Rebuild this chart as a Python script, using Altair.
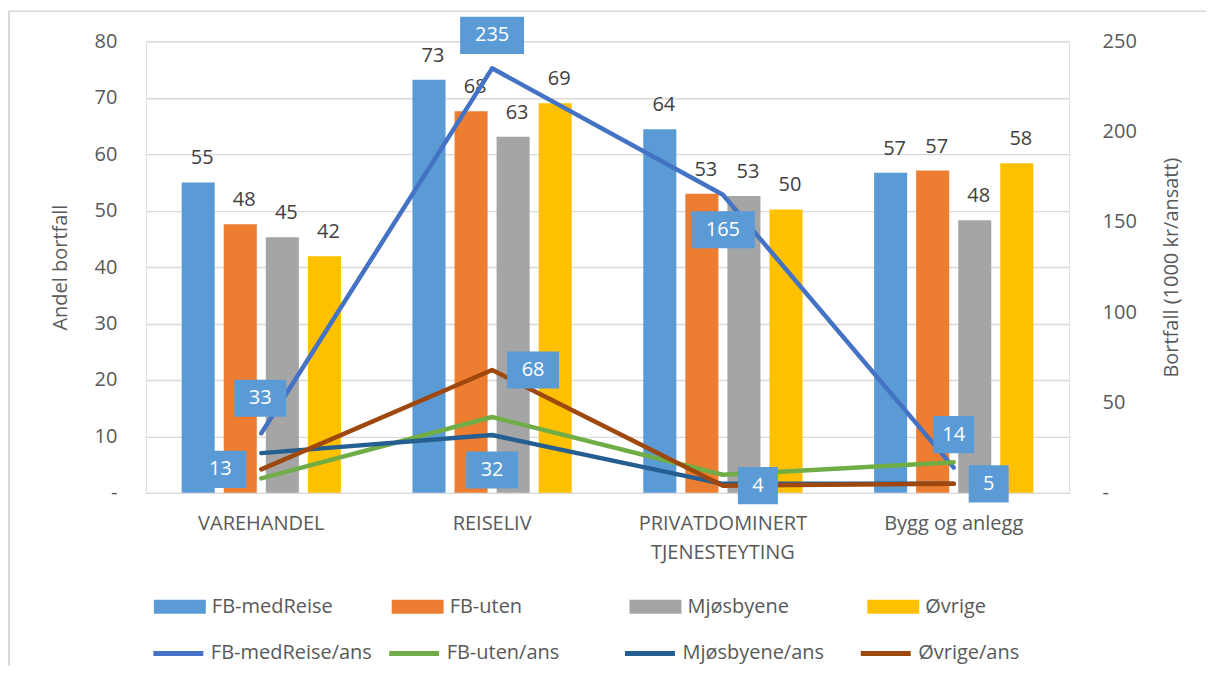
import altair as alt
import pandas as pd

FONT = "Open Sans"

categories = ["VAREHANDEL", "REISELIV", "PRIVATDOMINERT TJENESTEYTING", "Bygg og anlegg"]

bar_series = ["FB-medReise", "FB-uten", "Mjøsbyene", "Øvrige"]
bar_fb_medreise = [55.0, 73.2, 64.4, 56.7]
bar_fb_uten = [47.6, 67.6, 53.0, 57.1]
bar_mjosbyene = [45.3, 63.1, 52.6, 48.3]
bar_ovrige = [41.9, 69.0, 50.2, 58.4]

line_series = ["FB-medReise/ans", "FB-uten/ans", "Mjøsbyene/ans", "Øvrige/ans"]
line_fb_medreise = [33, 235, 165, 14]
line_fb_uten = [8, 42, 10, 17]
line_mjosbyene = [22, 32, 5, 5]
line_ovrige = [13, 68, 4, 5]

bar_colors = ["#5B9BD5", "#ED7D31", "#A5A5A5", "#FFC000"]
line_colors = ["#4472C4", "#70AD47", "#255E91", "#9E480E"]

# which line points carry a data label
labelled_series = ["FB-medReise/ans", "FB-medReise/ans", "FB-medReise/ans", "FB-medReise/ans",
                   "Øvrige/ans", "Øvrige/ans", "Øvrige/ans", "Øvrige/ans", "Mjøsbyene/ans"]
labelled_categories = ["VAREHANDEL", "REISELIV", "PRIVATDOMINERT TJENESTEYTING", "Bygg og anlegg",
                       "VAREHANDEL", "REISELIV", "PRIVATDOMINERT TJENESTEYTING", "Bygg og anlegg",
                       "REISELIV"]
# label box styling (pixel offsets from point, box width)
label_dx = [-1, 0, 0, 0, -41, 41, 35, 35, 0]
label_dy = [-35, -33, 35, -33, 0, 0, 0, 0, 35]
label_w = [52, 64, 64, 41, 52, 52, 40, 40, 52]

bar_vals = [bar_fb_medreise, bar_fb_uten, bar_mjosbyene, bar_ovrige]
line_vals = [line_fb_medreise, line_fb_uten, line_mjosbyene, line_ovrige]

bar_df = pd.DataFrame([
    {"category": c, "series": s, "value": v}
    for s, vals in zip(bar_series, bar_vals)
    for c, v in zip(categories, vals)
])
line_df = pd.DataFrame([
    {"category": c, "series": s, "value": v}
    for s, vals in zip(line_series, line_vals)
    for c, v in zip(categories, vals)
])

x_enc = alt.X(
    "category:N", sort=categories, title=None,
    scale=alt.Scale(paddingInner=0.31, paddingOuter=0.155),
    axis=alt.Axis(
        labelAngle=0, labelFontSize=20, labelFont=FONT, labelColor="#595959",
        labelPadding=21, labelLineHeight=29, ticks=False, domain=False, grid=False,
        labelExpr="length(datum.label) > 20 ? split(datum.label, ' ') : datum.label",
    ),
)

bar_legend = alt.Legend(
    title=None, orient="none", legendX=8, legendY=540, direction="horizontal",
    columns=4, gridAlign="all", columnPadding=58,
    symbolType="M-1,-0.27L1,-0.27L1,0.27L-1,0.27Z", symbolSize=2704,
    symbolStrokeWidth=0, symbolOpacity=1, labelOffset=6, labelLimit=300,
    labelFontSize=20, labelFont=FONT, labelColor="#595959", padding=0,
)

bars_base = alt.Chart(bar_df).encode(
    x=x_enc,
    xOffset=alt.XOffset("series:N", sort=bar_series,
                        scale=alt.Scale(paddingInner=0.214, paddingOuter=0)),
    y=alt.Y("value:Q", scale=alt.Scale(domain=[0, 80], nice=False), title="Andel bortfall",
            axis=alt.Axis(orient="left", values=list(range(0, 81, 10)), ticks=False,
                          domain=False, grid=True, gridColor="#D9D9D9", gridWidth=1.4,
                          labelFontSize=20, labelFont=FONT, labelColor="#595959",
                          labelPadding=29, titleFontSize=20, titleFont=FONT,
                          titleColor="#595959", titleFontWeight="normal", titlePadding=24,
                          labelExpr="datum.value == 0 ? '-' : datum.label")),
)
bars = bars_base.mark_bar().encode(
    color=alt.Color("series:N", sort=bar_series,
                    scale=alt.Scale(domain=bar_series, range=bar_colors),
                    legend=bar_legend)
)
bar_text = bars_base.mark_text(
    dx=4, dy=-18, baseline="alphabetic", fontSize=20, font=FONT, color="#404040"
).encode(text=alt.Text("value:Q", format=".0f"))

line_legend = alt.Legend(
    title=None, orient="none", legendX=5, legendY=585, direction="horizontal",
    columns=4, gridAlign="all", columnPadding=6,
    symbolType="stroke", symbolSize=2500, symbolStrokeWidth=5, labelOffset=5,
    labelLimit=300,
    labelFontSize=20, labelFont=FONT, labelColor="#595959", padding=0,
)

right_scale = alt.Scale(domain=[0, 250], nice=False)
y_right = alt.Y("value:Q", scale=right_scale, title="Bortfall (1000 kr/ansatt)",
                axis=alt.Axis(orient="right", values=list(range(0, 251, 50)), ticks=False,
                              domain=False, grid=False,
                              labelFontSize=20, labelFont=FONT, labelColor="#595959",
                              labelPadding=33, titleFontSize=20, titleFont=FONT,
                              titleColor="#595959", titleFontWeight="normal",
                              titleAngle=270, titlePadding=45,
                              labelExpr="datum.value == 0 ? '-' : datum.label"))

lines = alt.Chart(line_df).mark_line(
    strokeWidth=4.5, strokeCap="round", strokeJoin="round"
).encode(
    x=alt.X("category:N", sort=categories),
    y=y_right,
    color=alt.Color("series:N", sort=line_series,
                    scale=alt.Scale(domain=line_series, range=line_colors),
                    legend=line_legend),
)

label_layers = []
for s, c, dx, dy, w in zip(labelled_series, labelled_categories, label_dx, label_dy, label_w):
    hw = w / 64.0
    path = f"M{-hw},-0.58L{hw},-0.58L{hw},0.58L{-hw},0.58Z"
    base = alt.Chart(line_df).transform_filter(
        (alt.datum.series == s) & (alt.datum.category == c)
    ).encode(x=alt.X("category:N", sort=categories),
             y=alt.Y("value:Q", scale=right_scale))
    box = base.mark_point(shape=path, size=4096, filled=True, color="#5B9BD5",
                          opacity=1, strokeWidth=0, xOffset=dx, yOffset=dy)
    txt = base.mark_text(xOffset=dx, yOffset=dy, fontSize=20, font=FONT, color="white",
                         align="center", baseline="middle").encode(
        text=alt.Text("value:Q", format=".0f"))
    label_layers += [box, txt]

frame_df = pd.DataFrame({"k": [0]})
frame_top = alt.Chart(frame_df).mark_rule(color="#D9D9D9", strokeWidth=1.5).encode(
    x=alt.value(-137), x2=alt.value(1061), y=alt.value(-30))
frame_left = alt.Chart(frame_df).mark_rule(color="#D9D9D9", strokeWidth=2).encode(
    x=alt.value(-137), y=alt.value(-30), y2=alt.value(625))

bar_layer = alt.layer(bars, bar_text)
line_layer = alt.layer(lines, *label_layers)

chart = alt.layer(frame_top, frame_left, bar_layer, line_layer).resolve_scale(
    y="independent", color="independent"
).properties(
    width=924, height=452,
    padding={"left": 0, "top": 2, "right": 0, "bottom": 0},
).configure_view(stroke=None).configure(background="white")

chart.save("out.html", embed_options={"renderer": "svg", "actions": False})
